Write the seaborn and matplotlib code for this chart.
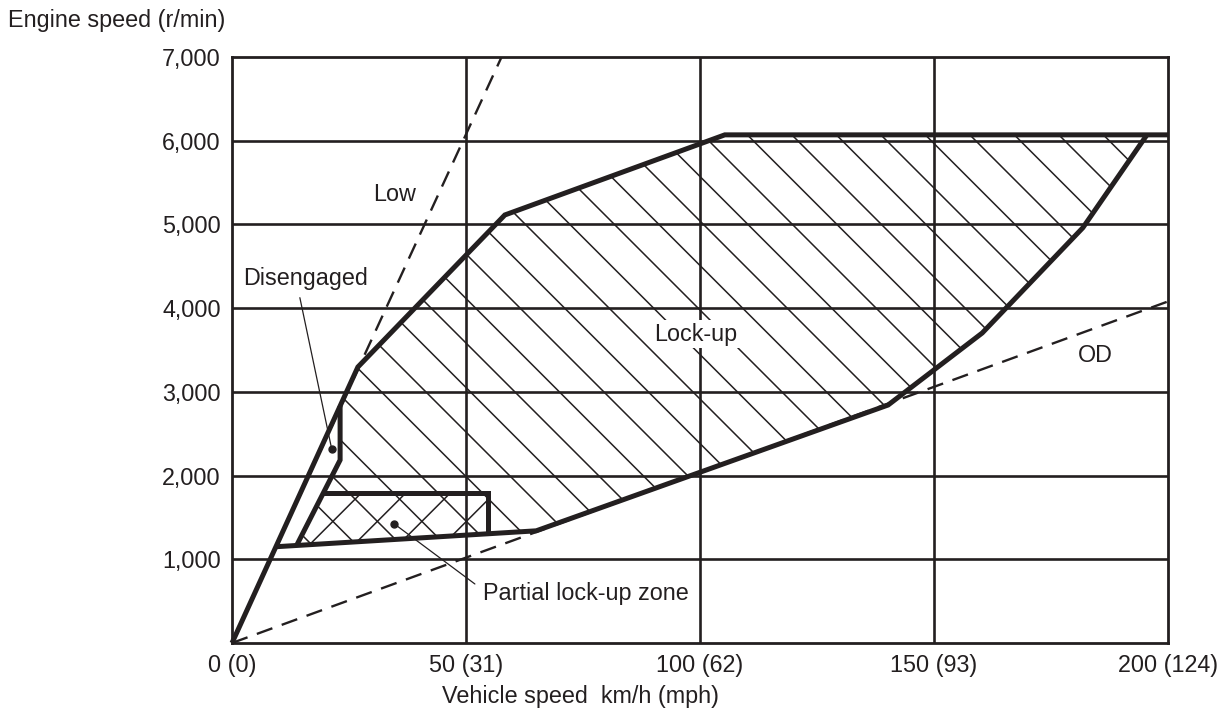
import numpy as np
import pandas as pd
import matplotlib
matplotlib.use("Agg")
import matplotlib.pyplot as plt
from matplotlib.patches import Polygon
import seaborn as sns

# ---------------- data ----------------
x_ticks = [0, 50, 100, 150, 200]
x_tick_labels = ["0 (0)", "50 (31)", "100 (62)", "150 (93)", "200 (124)"]
y_ticks = [1000, 2000, 3000, 4000, 5000, 6000, 7000]
y_tick_labels = ["1,000", "2,000", "3,000", "4,000", "5,000", "6,000", "7,000"]

# outer (upper-left / top) boundary of lock-up
outer_speed = [0, 26.9, 58.3, 105.3, 200]
outer_rpm = [0, 3297, 5113, 6070, 6070]
# right / lower boundary of lock-up
right_speed = [195.5, 181.8, 160.3, 140.2, 65.0, 9.4]
right_rpm = [6070, 4960, 3703, 2843, 1340, 1150]
# inner boundary (disengaged zone)
inner_speed = [13.8, 23.1, 23.1]
inner_rpm = [1165, 2186, 2831]
# partial lock-up zone outline
partial_speed = [19.55, 54.8, 54.8]
partial_rpm = [1796, 1796, 1305]

# hatched areas
lockup_area_speed = [23.1, 26.9, 58.3, 105.3, 195.5, 181.8, 160.3, 140.2, 65.0, 13.8, 23.1]
lockup_area_rpm = [2831, 3297, 5113, 6070, 6070, 4960, 3703, 2843, 1340, 1165, 2186]
partial_area_speed = [19.55, 54.8, 54.8, 13.8]
partial_area_rpm = [1796, 1796, 1305, 1165]

# gear lines (dashed)
low_speed = [0, 57.6]
low_rpm = [0, 7000]
od_speed = [0, 200]
od_rpm = [0, 4080]

# ---------------- figure ----------------
sns.set_theme(style="white")
plt.rcParams["font.family"] = ["Liberation Sans", "DejaVu Sans"]
FS = 16.8
INK = "#231f20"

W, H, DPI = 1225, 711, 100
fig = plt.figure(figsize=(W / DPI, H / DPI), dpi=DPI)
L, R, B, T = 232 / W, 1168 / W, 1 - 643 / H, 1 - 57 / H
ax = fig.add_axes([L, B, R - L, T - B])
ax.set_xlim(0, 200)
ax.set_ylim(0, 7000)

for s in ax.spines.values():
    s.set_color(INK)
    s.set_linewidth(2.0)

# grid
for gx in x_ticks[1:-1]:
    ax.axvline(gx, color=INK, lw=1.9, zorder=1)
for gy in y_ticks[:-1]:
    ax.axhline(gy, color=INK, lw=1.9, zorder=1)

# hatch lines generated at 45 degrees in pixel space, clipped to areas
ax_w_px = (R - L) * W
ax_h_px = (T - B) * H
k = (ax_w_px / 200) / (ax_h_px / 7000)   # rpm per km/h for 45 degrees
step_px = 44.5
dc = step_px / (ax_w_px / 200) * k

lock_poly = Polygon(np.column_stack([lockup_area_speed, lockup_area_rpm]),
                    closed=True, facecolor="none", edgecolor="none")
ax.add_patch(lock_poly)
vv = np.array([0, 200])
for c in np.arange(0, 7000 + k * 200 + dc, dc):
    ln, = ax.plot(vv, c - k * vv, color=INK, lw=1.1, zorder=2)
    ln.set_clip_path(lock_poly)

part_poly = Polygon(np.column_stack([partial_area_speed, partial_area_rpm]),
                    closed=True, facecolor="none", edgecolor="none")
ax.add_patch(part_poly)
for c in np.arange(-k * 200, 7000, dc):
    ln, = ax.plot(vv, c + 0.5 * dc + k * vv, color=INK, lw=1.1, zorder=2)
    ln.set_clip_path(part_poly)

# dashed gear lines
dash = (7.0, 4.2)
sns.lineplot(x=low_speed, y=low_rpm, ax=ax, color=INK, lw=1.7,
             sort=False, estimator=None, zorder=3).lines[-1].set_dashes(dash)
sns.lineplot(x=od_speed, y=od_rpm, ax=ax, color=INK, lw=1.7,
             sort=False, estimator=None, zorder=3).lines[-1].set_dashes(dash)

# thick boundaries
for xs, ys in [(outer_speed, outer_rpm), (right_speed, right_rpm),
               (inner_speed, inner_rpm), (partial_speed, partial_rpm)]:
    sns.lineplot(x=xs, y=ys, ax=ax, color=INK, lw=3.6, sort=False,
                 estimator=None, zorder=4)
for l in ax.lines[-4:]:
    l.set_solid_joinstyle("miter")
    l.set_solid_capstyle("butt")
    l.set_clip_on(False)

# ticks
ax.set_xticks(x_ticks)
ax.set_xticklabels(x_tick_labels, fontsize=FS, color=INK)
ax.set_yticks(y_ticks)
ax.set_yticklabels(y_tick_labels, fontsize=FS, color=INK)
ax.tick_params(axis="both", length=0, pad=8)
ax.set_xlabel("")
ax.set_ylabel("")

fig.text(8 / W, 1 - 20 / H, "Engine speed (r/min)", fontsize=FS, color=INK,
         ha="left", va="center")
fig.text(580 / W, 1 - 697 / H, "Vehicle speed  km/h (mph)", fontsize=FS,
         color=INK, ha="center", va="center")

# labels
box = dict(facecolor="white", edgecolor="none", pad=2)
ax.text(34.8, 5352, "Low", fontsize=FS, color=INK, ha="center", va="center", zorder=6)
ax.text(15.8, 4360, "Disengaged", fontsize=FS, color=INK, ha="center", va="center", zorder=6)
ax.text(99.1, 3691, "Lock-up", fontsize=FS, color=INK, ha="center", va="center",
        zorder=6, bbox=box)
ax.text(184.4, 3440, "OD", fontsize=FS, color=INK, ha="center", va="center", zorder=6)
ax.text(53.6, 597, "Partial lock-up zone", fontsize=FS, color=INK, ha="left", va="center", zorder=6)

# leader lines with dots
ax.annotate("", xy=(21.3, 2318), xytext=(14.5, 4125),
            arrowprops=dict(arrowstyle="-", color=INK, lw=0.9, shrinkA=0, shrinkB=0), zorder=6)
ax.plot([21.3], [2318], "o", color=INK, ms=5, zorder=6)
ax.annotate("", xy=(34.7, 1422), xytext=(51.9, 705),
            arrowprops=dict(arrowstyle="-", color=INK, lw=0.9, shrinkA=0, shrinkB=0), zorder=6)
ax.plot([34.7], [1422], "o", color=INK, ms=5, zorder=6)

fig.savefig("out.png", dpi=DPI, facecolor="white")
